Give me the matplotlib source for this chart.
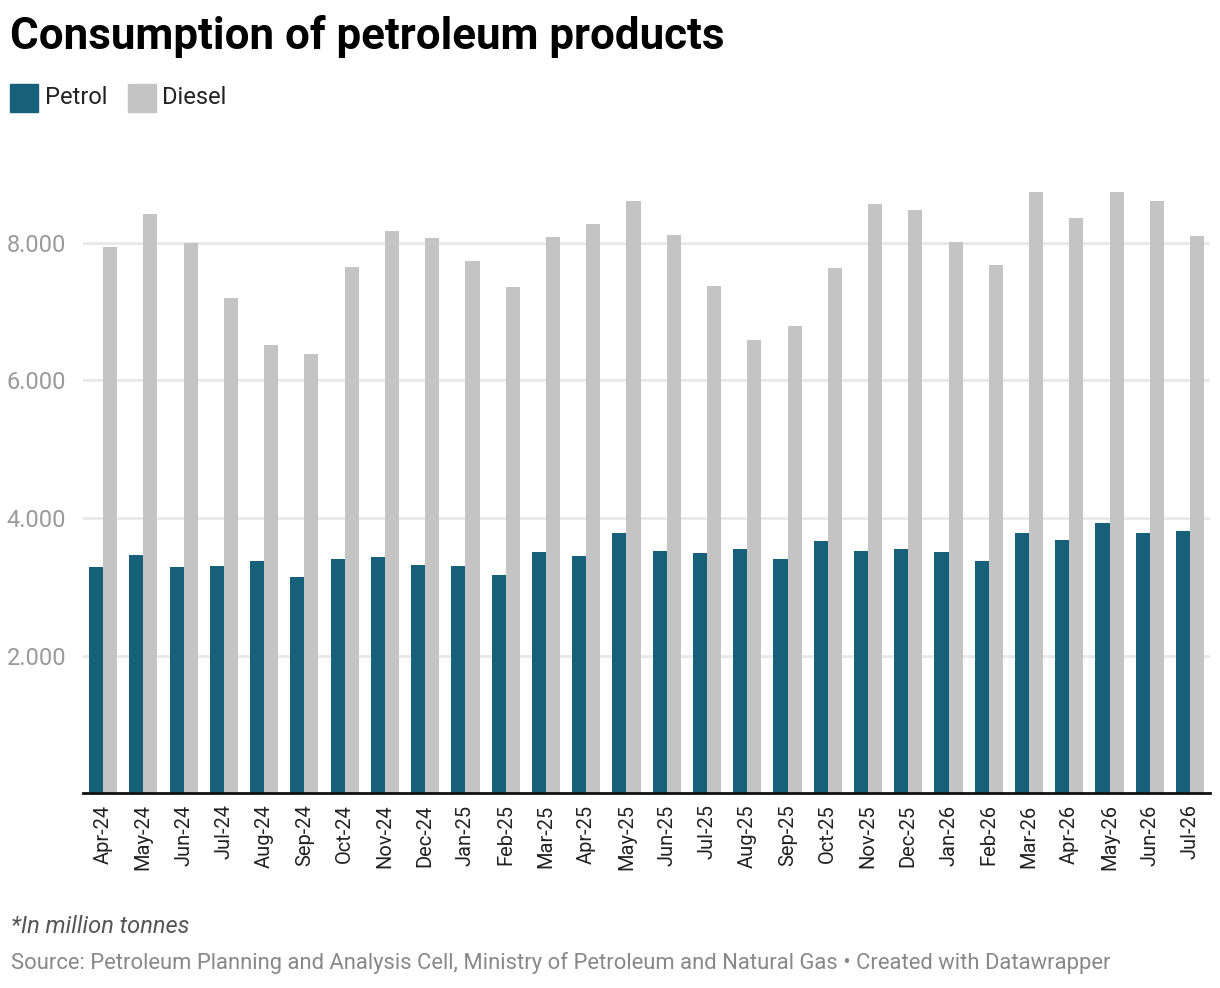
import numpy as np
import matplotlib
matplotlib.use("Agg")
import matplotlib.pyplot as plt
from matplotlib.ticker import FuncFormatter

plt.rcParams["font.family"] = ["Roboto", "DejaVu Sans"]

# Monthly consumption
months = ["Apr-24", "May-24", "Jun-24", "Jul-24", "Aug-24", "Sep-24", "Oct-24",
          "Nov-24", "Dec-24", "Jan-25", "Feb-25", "Mar-25", "Apr-25", "May-25",
          "Jun-25", "Jul-25", "Aug-25", "Sep-25", "Oct-25", "Nov-25", "Dec-25",
          "Jan-26", "Feb-26", "Mar-26", "Apr-26", "May-26", "Jun-26", "Jul-26"]
petrol = [3295, 3469, 3295, 3309, 3382, 3149, 3411, 3440, 3324, 3309, 3178, 3513,
          3455, 3789, 3527, 3498, 3556, 3411, 3673, 3527, 3556, 3513, 3370, 3789,
          3687, 3935, 3789, 3818]
diesel = [7935, 8415, 7993, 7193, 6509, 6378, 7644, 8167, 8065, 7731, 7353, 8080,
          8269, 8604, 8109, 7367, 6582, 6785, 7629, 8560, 8473, 8007, 7673, 8735,
          8356, 8735, 8604, 8095]
y_ticks = [2000, 4000, 6000, 8000]

petrol_color = "#17607a"
diesel_color = "#c4c4c4"

fig = plt.figure(figsize=(12.2, 9.88), dpi=100)
ax = fig.add_axes([0.068, 0.197, 0.924, 0.627])

x = np.arange(len(months))
w = 0.35
ax.bar(x - w / 2, petrol, width=w, color=petrol_color, zorder=3)
ax.bar(x + w / 2, diesel, width=w, color=diesel_color, zorder=3)

ax.set_xlim(-0.5, len(months) - 0.5)
ax.set_ylim(0, 9000)
ax.set_yticks(y_ticks)
ax.yaxis.set_major_formatter(FuncFormatter(lambda v, p: f"{int(v):,}".replace(",", ".")))
ax.grid(axis="y", color="#e8e8e8", linewidth=2, zorder=0)
ax.tick_params(axis="y", length=0, labelsize=17, labelcolor="#9a9a9a", pad=12)

ax.set_xticks(x)
ax.set_xticklabels(months, rotation=90, fontsize=14.5, color="#222222")
ax.tick_params(axis="x", length=0, pad=8)

for s in ["top", "right", "left"]:
    ax.spines[s].set_visible(False)
ax.spines["bottom"].set_color("#111111")
ax.spines["bottom"].set_linewidth(2)
ax.spines["bottom"].set_zorder(4)

# Title and legend
fig.text(0.008, 1 - 36 / 988, "Consumption of petroleum products", fontsize=31.6,
         fontweight="bold", color="#000000", va="center")
fig.patches.append(plt.Rectangle((10 / 1220, 1 - 112 / 988), 28 / 1220, 28 / 988,
                                 transform=fig.transFigure, color=petrol_color))
fig.text(45 / 1220, 1 - 98 / 988, "Petrol", fontsize=17, color="#222222", va="center")
fig.patches.append(plt.Rectangle((128 / 1220, 1 - 112 / 988), 28 / 1220, 28 / 988,
                                 transform=fig.transFigure, color=diesel_color))
fig.text(162 / 1220, 1 - 98 / 988, "Diesel", fontsize=17, color="#222222", va="center")

# Footer
fig.text(0.009, 1 - 926 / 988, "*In million tonnes", fontsize=17, style="italic",
         color="#555555", va="center")
fig.text(0.009, 1 - 963 / 988,
         "Source: Petroleum Planning and Analysis Cell, Ministry of Petroleum and Natural Gas \u2022 Created with Datawrapper",
         fontsize=15.8, color="#888888", va="center")

fig.savefig("out.png", dpi=100)
